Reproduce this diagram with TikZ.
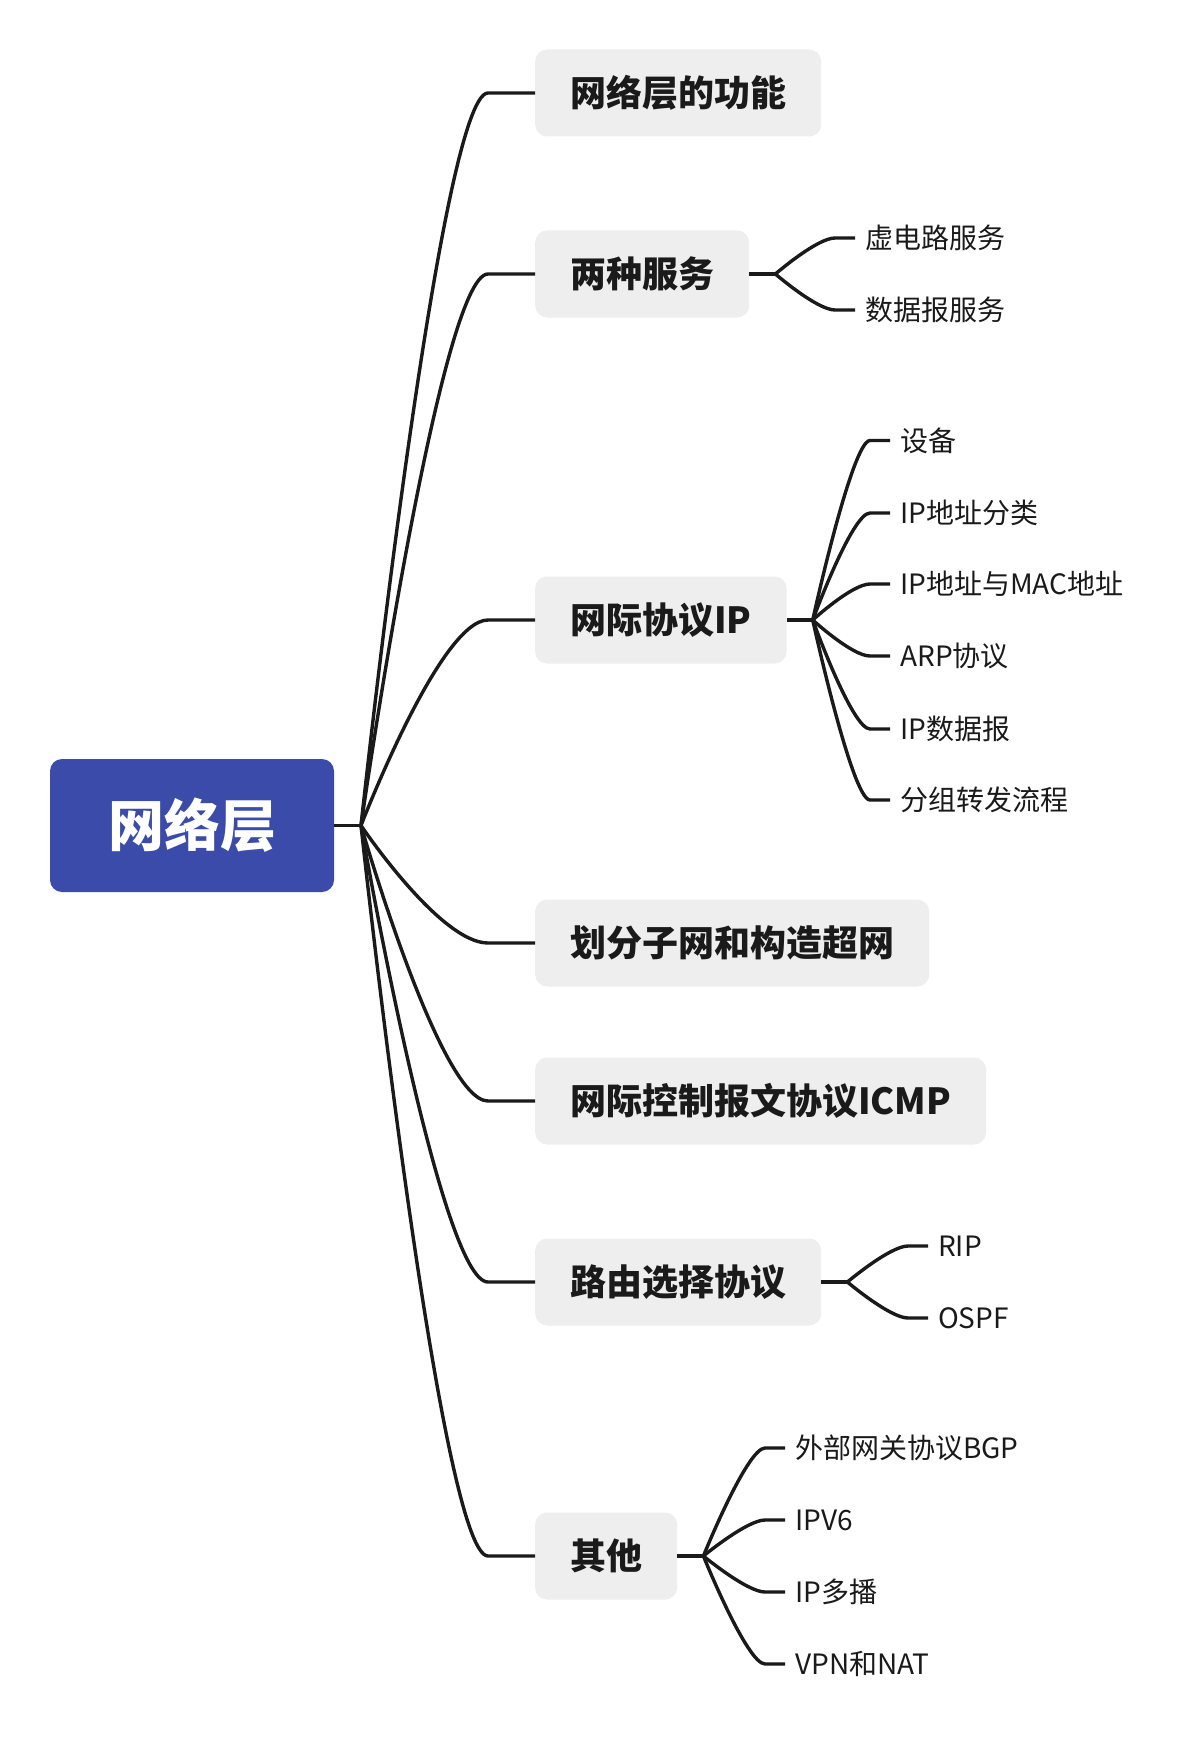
\documentclass[tikz,border=0pt]{standalone}
\usepackage{fontspec}
\setmainfont{Noto Sans CJK SC}
\newfontfamily\heavyfont{Noto Sans CJK SC Black}
\usetikzlibrary{calc}
\definecolor{rootblue}{RGB}{58,75,170}
\definecolor{boxgray}{RGB}{238,238,238}
\definecolor{ink}{RGB}{26,26,26}
\begin{document}
\begin{tikzpicture}[x=1pt,y=-1pt,
 rootbox/.style={fill=rootblue, rounded corners=12pt, minimum width=284pt, minimum height=133pt, inner sep=0pt, text=white, font=\fontsize{56}{60}\selectfont\heavyfont},
 topicbox/.style={fill=boxgray, rounded corners=12pt, minimum height=87pt, inner xsep=35pt, inner ysep=0pt, anchor=west, text=ink, font=\fontsize{36}{40}\selectfont\heavyfont},
 subtopic/.style={anchor=west, inner xsep=10pt, inner ysep=0pt, text=ink, font=\fontsize{28}{32}\selectfont},
 link/.style={draw=ink, line width=3.4pt, line join=round}]
\useasboundingbox[fill=white] (0,0) rectangle (1188,1744);
\node[rootbox] (root) at (192,825.5) {网络层};
\coordinate (J) at (361,825.5);
\node[topicbox] (b1) at (535,93) {网络层的功能};
\node[topicbox] (b2) at (535,274) {两种服务};
\node[topicbox] (b3) at (535,620) {网际协议IP};
\node[topicbox] (b4) at (535,943) {划分子网和构造超网};
\node[topicbox] (b5) at (535,1101) {网际控制报文协议ICMP};
\node[topicbox] (b6) at (535,1282) {路由选择协议};
\node[topicbox] (b7) at (535,1556) {其他};
\draw[link] (root.east) -- (J);
\foreach \b in {b1,b2,b3,b4,b5,b6,b7}
  \draw[link] (J) .. controls (J) and ([xshift=-95pt]\b.west) .. ([xshift=-47pt]\b.west) -- (\b.west);
% children of b2
\coordinate (j2) at ([xshift=26pt]b2.east);
\node[subtopic] (c21) at (855,238) {虚电路服务};
\node[subtopic] (c22) at (855,310) {数据报服务};
% children of b3
\coordinate (j3) at ([xshift=26pt]b3.east);
\node[subtopic] (c31) at (890,440.5) {设备};
\node[subtopic] (c32) at (890,513) {IP地址分类};
\node[subtopic] (c33) at (890,584) {IP地址与MAC地址};
\node[subtopic] (c34) at (890,656) {ARP协议};
\node[subtopic] (c35) at (890,729) {IP数据报};
\node[subtopic] (c36) at (890,800) {分组转发流程};
% children of b6
\coordinate (j6) at ([xshift=26pt]b6.east);
\node[subtopic] (c61) at (928,1246) {RIP};
\node[subtopic] (c62) at (928,1318) {OSPF};
% children of b7
\coordinate (j7) at ([xshift=26pt]b7.east);
\node[subtopic] (c71) at (785,1448) {外部网关协议BGP};
\node[subtopic] (c72) at (785,1520) {IPV6};
\node[subtopic] (c73) at (785,1592) {IP多播};
\node[subtopic] (c74) at (785,1664) {VPN和NAT};
\foreach \p/\j in {b2/j2,b3/j3,b6/j6,b7/j7}
  \draw[link] (\p.east) -- (\j);
\foreach \j/\c in {j2/c21,j2/c22,j3/c31,j3/c32,j3/c33,j3/c34,j3/c35,j3/c36,j6/c61,j6/c62,j7/c71,j7/c72,j7/c73,j7/c74}
  \draw[link] (\j) .. controls (\j) and ([xshift=-38pt]\c.west) .. ([xshift=-20pt]\c.west) -- (\c.west);
\end{tikzpicture}
\end{document}
